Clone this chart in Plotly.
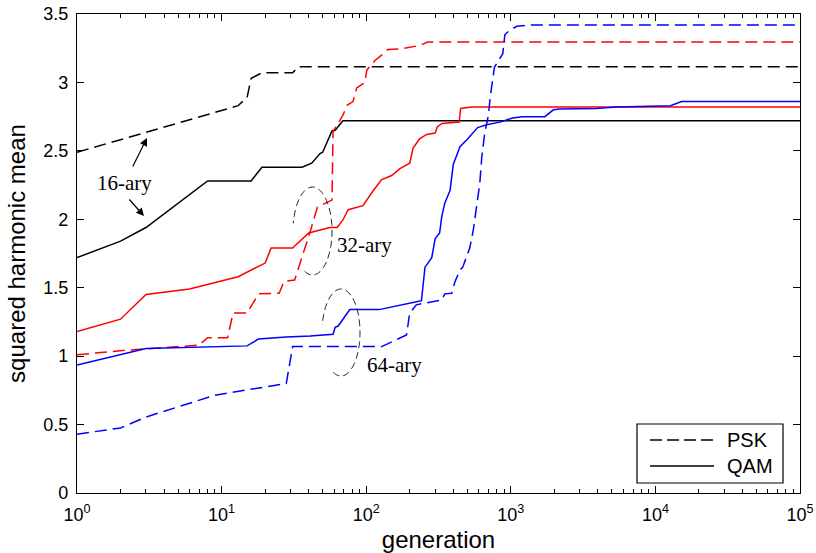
import plotly.graph_objects as go
import numpy as np

# ---------------- data ----------------
gen_psk16 = [1, 13, 15, 16, 19, 31, 34, 100000]
val_psk16 = [2.49, 2.83, 2.89, 3.03, 3.07, 3.07, 3.115, 3.115]

gen_qam16 = [1, 2, 3, 8, 16, 19, 36, 42, 48, 50, 58, 61, 69, 100000]
val_qam16 = [1.72, 1.84, 1.94, 2.28, 2.28, 2.38, 2.38, 2.41, 2.48, 2.49, 2.645, 2.65, 2.72, 2.72]

gen_psk32 = [1, 2, 7, 8, 11, 12, 15, 18, 25, 27, 32, 35, 41, 46, 58, 59, 64, 69, 74, 81,
             86, 98, 101, 110, 115, 128, 141, 171, 235, 266, 100000]
val_psk32 = [1.01, 1.04, 1.08, 1.135, 1.135, 1.315, 1.315, 1.455, 1.46, 1.545, 1.556, 1.68,
             1.91, 2.09, 2.14, 2.64, 2.70, 2.76, 2.835, 2.86, 2.96, 3.0, 3.09, 3.14, 3.16,
             3.20, 3.24, 3.245, 3.27, 3.295, 3.295]

gen_qam32 = [1, 2, 3, 6, 13, 20, 22, 31, 40, 56, 63, 69, 75, 95, 112, 128, 150, 171, 200,
             211, 235, 262, 300, 310, 335, 440, 450, 535, 100000]
val_qam32 = [1.18, 1.27, 1.45, 1.49, 1.58, 1.68, 1.79, 1.79, 1.90, 1.94, 1.94, 1.995, 2.07,
             2.10, 2.21, 2.29, 2.32, 2.37, 2.41, 2.52, 2.59, 2.62, 2.63, 2.675, 2.70, 2.71,
             2.81, 2.82, 2.82]

gen_psk64 = [1, 2, 3, 9, 28, 31, 128, 190, 200, 222, 262, 333, 350, 390, 410, 445, 465,
             520, 550, 590, 610, 630, 660, 700, 720, 770, 820, 880, 910, 980, 1100, 1400, 100000]
val_psk64 = [0.43, 0.475, 0.555, 0.715, 0.80, 1.07, 1.07, 1.155, 1.315, 1.375, 1.39, 1.41,
             1.455, 1.46, 1.54, 1.63, 1.65, 1.79, 1.92, 2.14, 2.26, 2.455, 2.63, 2.76, 2.89,
             3.11, 3.16, 3.21, 3.35, 3.38, 3.41, 3.42, 3.42]

gen_qam64 = [1, 2, 3, 15, 18, 28, 41, 59, 61, 64, 77, 123, 180, 227, 241, 255, 284, 300,
             322, 333, 350, 380, 400, 445, 495, 535, 590, 680, 840, 1030, 1200, 1720, 1970,
             2180, 3900, 5400, 12700, 15200, 100000]
val_qam64 = [0.935, 1.01, 1.055, 1.075, 1.125, 1.14, 1.147, 1.16, 1.21, 1.22, 1.34, 1.34,
             1.38, 1.40, 1.405, 1.65, 1.72, 1.86, 1.90, 2.02, 2.12, 2.21, 2.40, 2.53, 2.58,
             2.62, 2.67, 2.69, 2.71, 2.74, 2.75, 2.75, 2.80, 2.805, 2.81, 2.82, 2.83, 2.86, 2.86]

x_tick_vals = [1, 10, 100, 1000, 10000, 100000]
x_tick_text = ["10<sup>0</sup>", "10<sup>1</sup>", "10<sup>2</sup>",
               "10<sup>3</sup>", "10<sup>4</sup>", "10<sup>5</sup>"]
y_tick_vals = [0, 0.5, 1, 1.5, 2, 2.5, 3, 3.5]
y_tick_text = ["0", "0.5", "1", "1.5", "2", "2.5", "3", "3.5"]
legend_labels = ["PSK", "QAM"]

series = [
    (gen_psk16, val_psk16, "black", "12px,6px", "16-ary PSK"),
    (gen_qam16, val_qam16, "black", "solid", "16-ary QAM"),
    (gen_psk32, val_psk32, "#ff0000", "12px,6px", "32-ary PSK"),
    (gen_qam32, val_qam32, "#ff0000", "solid", "32-ary QAM"),
    (gen_psk64, val_psk64, "#0000ff", "12px,6px", "64-ary PSK"),
    (gen_qam64, val_qam64, "#0000ff", "solid", "64-ary QAM"),
]

fig = go.Figure()
for gx, gy, col, dash, name in series:
    fig.add_trace(go.Scatter(x=gx, y=gy, mode="lines", name=name, showlegend=False,
                             line=dict(color=col, width=1.5, dash=dash)))

# ---------------- geometry helpers (pixel -> paper) ----------------
L, R, T, B = 77, 800, 14, 493
def px(x):
    return (x - L) / (R - L)
def py(y):
    return (B - y) / (B - T)

shapes = []
# ellipses around groups (open on the lower-left)
def ellipse_path(cx, cy, rx, ry, a0, a1):
    ang = np.radians(np.linspace(a0, a1, 80))
    pts = [(px(cx + rx * np.cos(a)), py(cy - ry * np.sin(a))) for a in ang]
    return "M " + " L ".join(f"{a:.5f},{b:.5f}" for a, b in pts)

for cx, cy, rx, ry in [(312.5, 231, 19.5, 44), (341, 332.5, 19, 43.5)]:
    shapes.append(dict(type="path", xref="paper", yref="paper",
                       path=ellipse_path(cx, cy, rx, ry, 246, 530),
                       line=dict(color="#222222", width=1, dash="7px,4px")))

# legend box
shapes.append(dict(type="rect", xref="paper", yref="paper",
                   x0=px(637), x1=px(783), y0=py(483), y1=py(424),
                   line=dict(color="black", width=1.2), fillcolor="white", layer="above"))
shapes.append(dict(type="line", xref="paper", yref="paper", x0=px(650), x1=px(714),
                   y0=py(440), y1=py(440), line=dict(color="black", width=1.3, dash="12px,5px")))
shapes.append(dict(type="line", xref="paper", yref="paper", x0=px(650), x1=px(714),
                   y0=py(466), y1=py(466), line=dict(color="black", width=1.3)))

annotations = [
    dict(x=px(725), y=py(440), text=legend_labels[0], xanchor="left", yanchor="middle"),
    dict(x=px(725), y=py(466), text=legend_labels[1], xanchor="left", yanchor="middle"),
]
for a in annotations:
    a.update(xref="paper", yref="paper", showarrow=False,
             font=dict(family="Liberation Sans, Arial", size=20, color="black"))

serif = dict(family="Liberation Serif, Times New Roman", size=21, color="black")
annotations += [
    dict(x=px(124.5), y=py(183), text="16-ary", xanchor="center", yanchor="middle",
         xref="paper", yref="paper", showarrow=False, font=serif),
    dict(x=px(335), y=py(245), text="32-ary", xanchor="left", yanchor="middle",
         xref="paper", yref="paper", showarrow=False, font=serif),
    dict(x=px(365), y=py(365), text="64-ary", xanchor="left", yanchor="middle",
         xref="paper", yref="paper", showarrow=False, font=serif),
    dict(x=px(147), y=py(138), text="", xref="paper", yref="paper", showarrow=True,
         ax=-15, ay=30, arrowhead=2, arrowsize=1.3, arrowwidth=1.2, arrowcolor="black"),
    dict(x=px(144), y=py(216), text="", xref="paper", yref="paper", showarrow=True,
         ax=-16, ay=-18, arrowhead=2, arrowsize=1.3, arrowwidth=1.2, arrowcolor="black"),
]

minor_vals = [k * 10 ** e for e in range(5) for k in range(2, 10)]

axis_font = dict(family="Liberation Sans, Arial", size=18, color="black")
fig.update_layout(
    width=816, height=553,
    margin=dict(l=L, r=816 - R, t=T, b=553 - B),
    paper_bgcolor="white", plot_bgcolor="white",
    showlegend=False,
    shapes=shapes, annotations=annotations,
    xaxis=dict(type="log", range=[0, 5], tickmode="array", tickvals=x_tick_vals,
               ticktext=x_tick_text, ticks="inside", ticklen=7, tickcolor="black",
               ticklabelstandoff=5,
               showline=True, linecolor="black", linewidth=1.2, mirror="allticks",
               showgrid=False, zeroline=False, tickfont=axis_font, automargin=False,
               minor=dict(tickmode="array", tickvals=minor_vals, ticks="inside",
                          ticklen=4, tickcolor="black", showgrid=False),
               title=dict(text="generation", standoff=10,
                          font=dict(family="Liberation Sans, Arial", size=24, color="black"))),
    yaxis=dict(range=[0, 3.5], tickmode="array", tickvals=y_tick_vals, ticktext=y_tick_text,
               ticks="inside", ticklen=7, tickcolor="black", ticklabelstandoff=4,
               showline=True, linecolor="black", linewidth=1.2, mirror="allticks",
               showgrid=False, zeroline=False, tickfont=axis_font, automargin=False,
               title=dict(text="squared harmonic mean", standoff=10,
                          font=dict(family="Liberation Sans, Arial", size=24, color="black"))),
)

fig.write_html("out.html", config={"displayModeBar": False},
               post_script="document.body.style.margin='0';document.body.style.padding='0';")
